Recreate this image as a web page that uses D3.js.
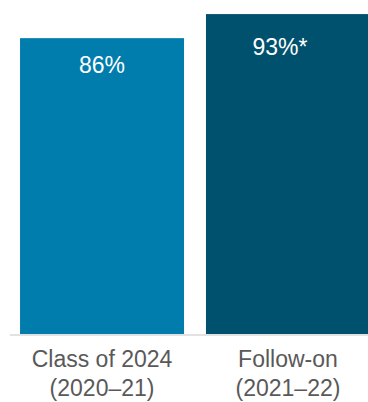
<!DOCTYPE html>
<html>
<head>
<meta charset="utf-8">
<script src="https://cdn.jsdelivr.net/npm/d3@7"></script>
<style>
  body { margin: 0; background: #fff; }
  svg { display: block; font-family: "Liberation Sans", Arial, sans-serif; }
</style>
</head>
<body>
<svg width="368" height="402"></svg>
<script>
const categories = ['Class of 2024', 'Follow-on'];
const years = ['(2020\u201321)', '(2021\u201322)'];
const values = [86, 93];
const valueLabels = ['86%', '93%*'];

const barColors = ['#007dad', '#00516e'];
const labelDy = [35, 41]; // baseline offset below bar top
const labelDx = [0, -8];

const svg = d3.select('svg');
const width = 368;
const baseline = 334;

const x = d3.scaleBand()
  .domain(categories)
  .range([10, 380])
  .paddingInner(0.118)
  .paddingOuter(0.054);

const y = d3.scaleLinear()
  .domain([0, 100])
  .range([baseline, -10]);

// bars
svg.selectAll('rect.bar')
  .data(values)
  .join('rect')
  .attr('class', 'bar')
  .attr('x', (d, i) => x(categories[i]))
  .attr('y', d => y(d))
  .attr('width', x.bandwidth())
  .attr('height', d => y(0) - y(d))
  .attr('fill', (d, i) => barColors[i]);

// axis line
svg.append('line')
  .attr('x1', 10)
  .attr('x2', width)
  .attr('y1', baseline + 1)
  .attr('y2', baseline + 1)
  .attr('stroke', '#d9d9d9')
  .attr('stroke-width', 1.5);

// value labels
svg.selectAll('text.val')
  .data(values)
  .join('text')
  .attr('class', 'val')
  .attr('x', (d, i) => x(categories[i]) + x.bandwidth() / 2 + labelDx[i])
  .attr('y', (d, i) => y(d) + labelDy[i])
  .attr('text-anchor', 'middle')
  .attr('fill', '#fff')
  .attr('font-size', 23)
  .text((d, i) => valueLabels[i]);

// category labels
const cat = svg.selectAll('text.cat')
  .data(categories)
  .join('text')
  .attr('class', 'cat')
  .attr('text-anchor', 'middle')
  .attr('fill', '#595959')
  .attr('font-size', 23);

cat.append('tspan')
  .attr('x', d => x(d) + x.bandwidth() / 2)
  .attr('y', baseline + 33)
  .text(d => d);

cat.append('tspan')
  .attr('x', d => x(d) + x.bandwidth() / 2)
  .attr('y', baseline + 62)
  .text((d, i) => years[i]);
</script>
</body>
</html>
